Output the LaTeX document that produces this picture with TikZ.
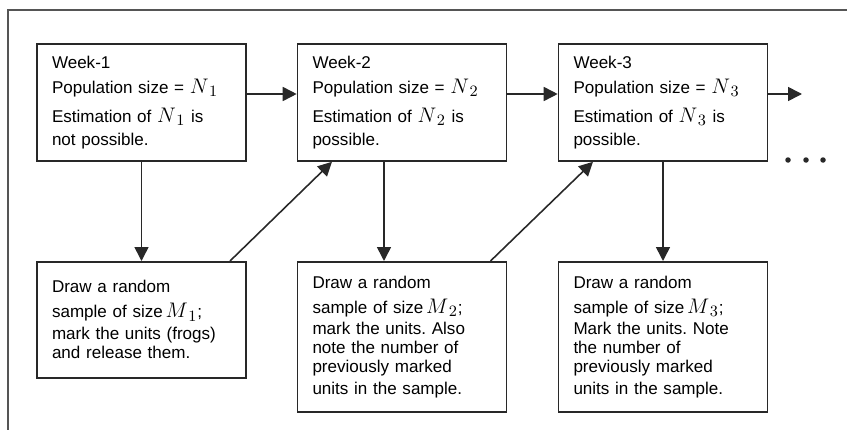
\documentclass[tikz,border=0pt]{standalone}
\usepackage{fontspec}
\setmainfont{Liberation Sans}
\usetikzlibrary{arrows.meta,positioning,calc}
\definecolor{ink}{RGB}{40,40,40}
\definecolor{rule}{RGB}{85,85,85}
\frenchspacing
% large italic symbols N_i, M_i
\newcommand{\sym}[2]{{\fontsize{12.5}{11}\selectfont$#1_{\,#2}$}}
\tikzset{
  >={Triangle[length=2.8mm,width=2.8mm]},
  week/.style={draw=ink,line width=0.9pt,minimum width=4.18cm,minimum height=2.34cm,
    text width=3.58cm,inner xsep=0.3cm,align=left,font=\fontsize{9.7}{10.8}\selectfont},
  sample/.style={week,anchor=north,minimum height=#1},
  sample/.default=3cm,
  flow/.style={->,draw=ink,line width=0.9pt},
}

\begin{document}
\begin{tikzpicture}
  \useasboundingbox (0,0) rectangle (16.94,-8.6);
  \draw[rule,line width=0.6pt] (16.94,-0.2) -- (0.16,-0.2) -- (0.16,-8.6);
  % weeks
  \node[week] (wk1) at (2.83,-2.05) {Week-1\\[0.12cm]
    Population size = \sym{N}{1}\\[0.2cm]
    Estimation of \sym{N}{1} is\\[0.08cm]
    not possible.};
  \node[week] (wk2) at (8.04,-2.05) {Week-2\\[0.12cm]
    Population size = \sym{N}{2}\\[0.2cm]
    Estimation of \sym{N}{2} is\\[0.08cm]
    possible.};
  \node[week] (wk3) at (13.26,-2.05) {Week-3\\[0.12cm]
    Population size = \sym{N}{3}\\[0.2cm]
    Estimation of \sym{N}{3} is\\[0.08cm]
    possible.};
  % samples
  \node[sample=2.32cm] (sm1) at (2.83,-5.22) {Draw a random\\[0.12cm]
    sample of size\,\sym{M}{1};\\[0.06cm]
    mark the units (frogs)\\
    and release them.};
  \node[sample] (sm2) at (8.04,-5.22) {Draw a random\\[0.12cm]
    sample of size\,\sym{M}{2};\\[0.04cm]
    mark the units. Also\\
    note the number of\\
    previously marked\\[0.06cm]
    units in the sample.};
  \node[sample] (sm3) at (13.26,-5.22) {Draw a random\\[0.12cm]
    sample of size\,\sym{M}{3};\\[0.04cm]
    Mark the units. Note\\
    the number of\\
    previously marked\\[0.06cm]
    units in the sample.};
  \coordinate (next) at (16.04,-1.88);
  \draw[flow] ([yshift=0.17cm]wk1.east) -- ([yshift=0.17cm]wk2.west);
  \draw[flow] ([yshift=0.17cm]wk2.east) -- ([yshift=0.17cm]wk3.west);
  \draw[flow] ([yshift=0.17cm]wk3.east) -- (next);
  \draw[flow] (wk1.south) -- (sm1.north);
  \draw[flow] ([xshift=-0.36cm]wk2.south) -- ([xshift=-0.36cm]sm2.north);
  \draw[flow] (wk3.south) -- (sm3.north);
  \draw[flow] ([xshift=1.77cm]sm1.north) -- ([xshift=-1.4cm]wk2.south);
  \draw[flow] ([xshift=1.77cm]sm2.north) -- ([xshift=-1.4cm]wk3.south);
  \foreach \x in {15.76,16.12,16.46}
    \fill[ink] (\x,-3.2) circle (0.055);
\end{tikzpicture}
\end{document}
